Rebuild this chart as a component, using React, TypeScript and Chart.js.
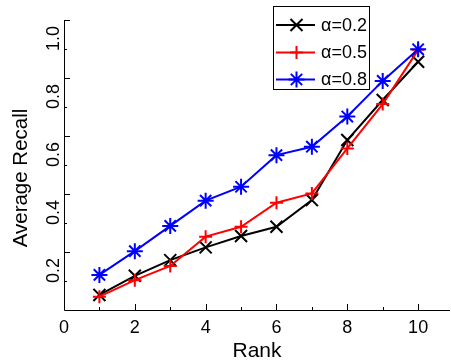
import React, { useEffect, useRef } from "react";
import { Chart, registerables } from "chart.js";
Chart.register(...registerables);

const ranks = [1, 2, 3, 4, 5, 6, 7, 8, 9, 10];
const alpha02 = [0.052, 0.118, 0.172, 0.216, 0.255, 0.287, 0.379, 0.586, 0.724, 0.856];
const alpha05 = [0.046, 0.103, 0.152, 0.253, 0.287, 0.37, 0.402, 0.557, 0.71, 0.897];
const alpha08 = [0.121, 0.203, 0.29, 0.377, 0.425, 0.534, 0.563, 0.667, 0.79, 0.899];
const seriesLabels = ["α=0.2", "α=0.5", "α=0.8"];
const seriesColors = ["#000000", "#ff0000", "#0000ff"];
const seriesMarkers = ["crossRot", "cross", "star"];
const xMajorTicks = [0, 2, 4, 6, 8, 10];
const xMinorTicks = [1, 3, 5, 7, 9];
const xTickLabels = ["0", "2", "4", "6", "8", "10"];
const yMajorTicks = [0.2, 0.4, 0.6, 0.8, 1.0];
const yMinorTicks = [0.1, 0.3, 0.5, 0.7, 0.9];
const yTickLabels = ["0.2", "0.4", "0.6", "0.8", "1.0"];
const xTitle = "Rank";
const yTitle = "Average Recall";

const FONT = '"Liberation Sans", Arial, sans-serif';

function drawMarker(ctx: CanvasRenderingContext2D, style: string, x: number, y: number, r: number) {
  ctx.beginPath();
  if (style === "cross" || style === "star") {
    ctx.moveTo(x - r, y);
    ctx.lineTo(x + r, y);
    ctx.moveTo(x, y - r);
    ctx.lineTo(x, y + r);
  }
  if (style === "crossRot" || style === "star") {
    const d = r * Math.SQRT1_2;
    ctx.moveTo(x - d, y - d);
    ctx.lineTo(x + d, y + d);
    ctx.moveTo(x - d, y + d);
    ctx.lineTo(x + d, y - d);
  }
  ctx.stroke();
}

const axesPlugin = {
  id: "matlabAxes",
  afterDraw(chart: any) {
    const ctx = chart.ctx;
    const ca = chart.chartArea;
    const xs = chart.scales.x;
    const ys = chart.scales.y;
    ctx.save();
    ctx.strokeStyle = "#000";
    ctx.fillStyle = "#000";
    ctx.lineWidth = 1;
    ctx.beginPath();
    ctx.moveTo(ca.left + 0.5, ca.top);
    ctx.lineTo(ca.left + 0.5, ca.bottom + 0.5);
    ctx.lineTo(ca.right, ca.bottom + 0.5);
    ctx.stroke();
    ctx.beginPath();
    xMajorTicks.forEach((v) => {
      const px = Math.round(xs.getPixelForValue(v)) + 0.5;
      ctx.moveTo(px, ca.bottom);
      ctx.lineTo(px, ca.bottom - 6);
    });
    xMinorTicks.forEach((v) => {
      const px = Math.round(xs.getPixelForValue(v)) + 0.5;
      ctx.moveTo(px, ca.bottom);
      ctx.lineTo(px, ca.bottom - 3);
    });
    yMajorTicks.forEach((v) => {
      const py = Math.round(ys.getPixelForValue(v)) + 0.5;
      ctx.moveTo(ca.left, py);
      ctx.lineTo(ca.left + 6, py);
    });
    yMinorTicks.forEach((v) => {
      const py = Math.round(ys.getPixelForValue(v)) + 0.5;
      ctx.moveTo(ca.left, py);
      ctx.lineTo(ca.left + 3, py);
    });
    ctx.stroke();
    ctx.font = `18px ${FONT}`;
    ctx.textAlign = "center";
    ctx.textBaseline = "alphabetic";
    xMajorTicks.forEach((v, i) => {
      ctx.fillText(xTickLabels[i], xs.getPixelForValue(v), ca.bottom + 23);
    });
    yMajorTicks.forEach((v, i) => {
      const py = ys.getPixelForValue(v);
      ctx.save();
      ctx.translate(ca.left - 5, py + 6);
      ctx.rotate(-Math.PI / 2);
      ctx.textAlign = "right";
      ctx.textBaseline = "alphabetic";
      ctx.fillText(yTickLabels[i], 0, 0);
      ctx.restore();
    });
    ctx.font = `21px ${FONT}`;
    ctx.textAlign = "center";
    ctx.fillText(xTitle, (ca.left + ca.right) / 2, ca.bottom + 47);
    ctx.save();
    ctx.translate(27, 178);
    ctx.rotate(-Math.PI / 2);
    ctx.font = `20.5px ${FONT}`;
    ctx.textAlign = "center";
    ctx.fillText(yTitle, 0, 0);
    ctx.restore();

    const bx = 273.5, by = 6.5, bw = 96, bh = 83;
    ctx.fillStyle = "#fff";
    ctx.fillRect(bx, by, bw, bh);
    ctx.strokeStyle = "#000";
    ctx.lineWidth = 1;
    ctx.strokeRect(bx, by, bw, bh);
    const rowY = [25, 52.5, 79.5];
    const radii = [8.5, 6.5, 8];
    seriesLabels.forEach((lab, i) => {
      const y = rowY[i];
      ctx.strokeStyle = seriesColors[i];
      ctx.lineWidth = 2;
      ctx.beginPath();
      ctx.moveTo(276, y);
      ctx.lineTo(315, y);
      ctx.stroke();
      drawMarker(ctx, seriesMarkers[i], 296.5, y, radii[i]);
      ctx.fillStyle = "#000";
      ctx.font = `18px ${FONT}`;
      ctx.textAlign = "left";
      ctx.textBaseline = "middle";
      ctx.fillText(lab, 321, y + 1);
    });
    ctx.restore();
  },
};

export default function App() {
  const ref = useRef<HTMLCanvasElement | null>(null);
  useEffect(() => {
    if (!ref.current) return;
    const series = [alpha02, alpha05, alpha08];
    const radii = [8.5, 6.5, 8];
    const chart = new Chart(ref.current, {
      type: "line",
      data: {
        datasets: series.map((s, i) => ({
          label: seriesLabels[i],
          data: ranks.map((r, j) => ({ x: r, y: s[j] })),
          borderColor: seriesColors[i],
          backgroundColor: seriesColors[i],
          borderWidth: 2,
          pointStyle: seriesMarkers[i] as any,
          pointRadius: radii[i],
          pointBorderWidth: 2,
          pointBorderColor: seriesColors[i],
          pointBackgroundColor: seriesColors[i],
          tension: 0,
          fill: false,
          order: 3 - i,
          clip: false as any,
        })),
      },
      options: {
        animation: false,
        responsive: false,
        maintainAspectRatio: false,
        events: [],
        layout: { autoPadding: false, padding: { left: 64, right: 1, top: 20, bottom: 50 } },
        plugins: { legend: { display: false }, tooltip: { enabled: false } },
        scales: {
          x: { type: "linear", min: 0, max: 10.9, display: false },
          y: { type: "linear", min: 0, max: 1.0, display: false },
        },
      },
      plugins: [axesPlugin],
    });
    return () => chart.destroy();
  }, []);
  return (
    <div style={{ position: "fixed", left: 0, top: 0, width: 451, height: 360, background: "#fff" }}>
      <canvas ref={ref} width={451} height={360} style={{ width: 451, height: 360, display: "block" }} />
    </div>
  );
}
